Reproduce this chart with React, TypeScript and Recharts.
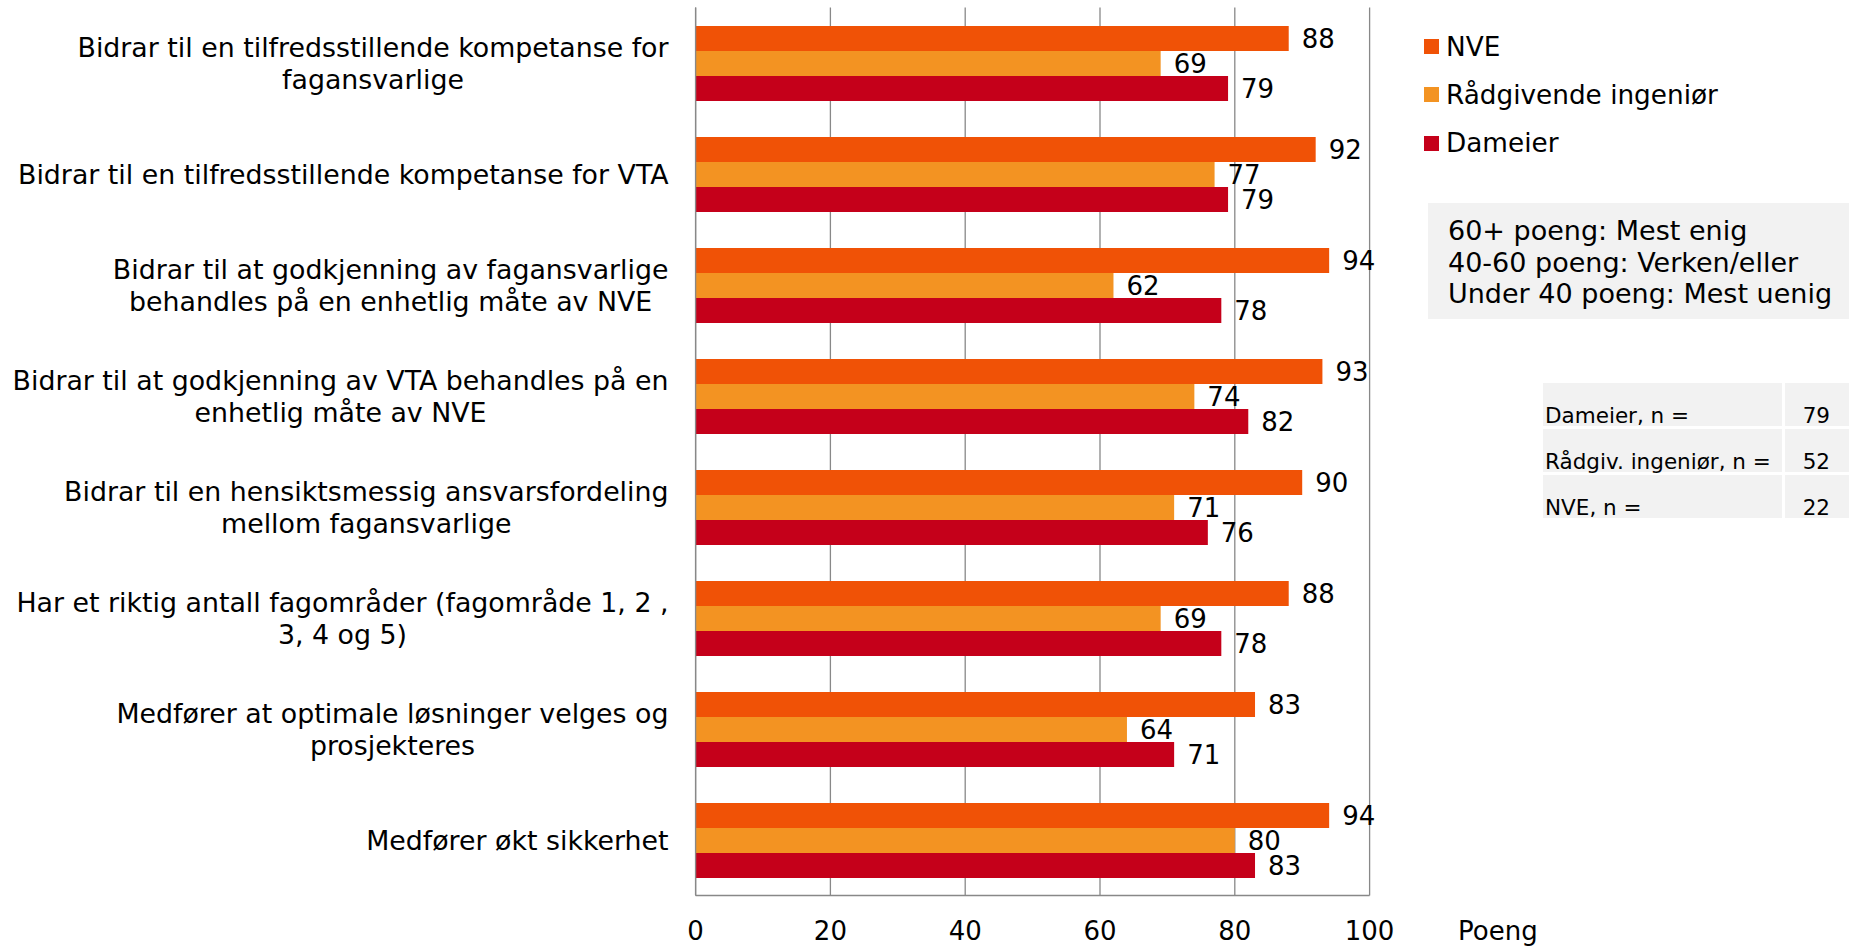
import React from "react";
import { BarChart, Bar, XAxis, YAxis, CartesianGrid, LabelList, Legend } from "recharts";

const categories = [
  "Bidrar til en tilfredsstillende kompetanse for\nfagansvarlige",
  "Bidrar til en tilfredsstillende kompetanse for VTA",
  "Bidrar til at godkjenning av fagansvarlige\nbehandles på en enhetlig måte av NVE",
  "Bidrar til at godkjenning av VTA behandles på en\nenhetlig måte av NVE",
  "Bidrar til en hensiktsmessig ansvarsfordeling\nmellom fagansvarlige",
  "Har et riktig antall fagområder (fagområde 1, 2 ,\n3, 4 og 5)",
  "Medfører at optimale løsninger velges og\nprosjekteres",
  "Medfører økt sikkerhet",
];
const nveValues = [88, 92, 94, 93, 90, 88, 83, 94];
const raadgivendeValues = [69, 77, 62, 74, 71, 69, 64, 80];
const dameierValues = [79, 79, 78, 82, 76, 78, 71, 83];
const xTicks = [0, 20, 40, 60, 80, 100];
const seriesNames = ["NVE", "Rådgivende ingeniør", "Dameier"];
const seriesColors = ["#F05206", "#F39322", "#C5001A"];
const axisTitle = "Poeng";
const noteLines = ["60+ poeng: Mest enig", "40-60 poeng: Verken/eller", "Under 40 poeng: Mest uenig"];
const sampleLabels = ["Dameier, n =", "Rådgiv. ingeniør, n =", "NVE, n ="];
const sampleSizes = [79, 52, 22];

const data = categories.map((name, i) => ({
  name,
  nve: nveValues[i],
  raad: raadgivendeValues[i],
  dam: dameierValues[i],
}));

const FONT = "'DejaVu Sans', Verdana, sans-serif";
const FS = 26;
const CAT_FS = 26.8;
const LINE_H = 32;
const LABEL_RIGHT = 668.5;
const TICK_Y = 931;
const GRID = "#888888";

let ctx: CanvasRenderingContext2D | null = null;
function measure(text: string): number {
  if (!ctx) ctx = document.createElement("canvas").getContext("2d");
  if (!ctx) return text.length * CAT_FS * 0.55;
  ctx.font = `${CAT_FS}px 'DejaVu Sans'`;
  return ctx.measureText(text).width;
}

const YTick = (props: any) => {
  const { y, payload } = props;
  const lines = String(payload.value).split("\n");
  const maxW = Math.max(...lines.map((l) => measure(l)));
  const cx = LABEL_RIGHT - maxW / 2;
  const y0 = y - ((lines.length - 1) * LINE_H) / 2;
  return (
    <g>
      {lines.map((l, i) => (
        <text
          key={i}
          x={cx}
          y={y0 + i * LINE_H}
          textAnchor="middle"
          dominantBaseline="central"
          fontFamily={FONT}
          fontSize={CAT_FS}
          fill="#000"
        >
          {l}
        </text>
      ))}
    </g>
  );
};

const XTick = (props: any) => {
  const { x, payload } = props;
  return (
    <text x={x} y={TICK_Y} textAnchor="middle" dominantBaseline="central" fontFamily={FONT} fontSize={FS} fill="#000">
      {payload.value}
    </text>
  );
};

const renderLegend = () => (
  <div style={{ fontFamily: FONT, fontSize: 26.3, color: "#000" }}>
    {seriesNames.map((n, i) => (
      <div key={n} style={{ display: "flex", alignItems: "center", height: 48.3, whiteSpace: "nowrap" }}>
        <span style={{ display: "inline-block", width: 15, height: 15, background: seriesColors[i], marginRight: 7 }} />
        <span>{n}</span>
      </div>
    ))}
  </div>
);

export default function App() {
  return (
    <div style={{ position: "absolute", left: 0, top: 0, width: 1849, height: 946, background: "#fff", fontFamily: FONT }}>
      <BarChart
        width={1849}
        height={946}
        data={data}
        layout="vertical"
        margin={{ top: 7.5, right: 479.4, bottom: 0.5, left: 0 }}
        barCategoryGap={18.5}
        barGap={0}
      >
        <CartesianGrid horizontal={false} stroke={GRID} strokeWidth={1.3} />
        <XAxis
          type="number"
          domain={[0, 100]}
          ticks={xTicks}
          interval={0}
          height={50}
          axisLine={{ stroke: GRID, strokeWidth: 1.3 }}
          tickLine={false}
          tick={<XTick />}
          label={{
            content: () => (
              <text x={1458} y={TICK_Y} dominantBaseline="central" fontFamily={FONT} fontSize={FS} fill="#000">
                {axisTitle}
              </text>
            ),
          }}
        />
        <YAxis
          type="category"
          dataKey="name"
          width={695.6}
          axisLine={{ stroke: GRID, strokeWidth: 1.3 }}
          tickLine={false}
          tick={<YTick />}
          interval={0}
        />
        <Legend
          layout="vertical"
          align="center"
          verticalAlign="middle"
          content={renderLegend}
          wrapperStyle={{ left: 1424, top: 22.5, width: 420 }}
        />
        <Bar dataKey="nve" name={seriesNames[0]} fill={seriesColors[0]} isAnimationActive={false}>
          <LabelList dataKey="nve" position="right" offset={13} fill="#000" fontSize={FS} fontFamily={FONT} />
        </Bar>
        <Bar dataKey="raad" name={seriesNames[1]} fill={seriesColors[1]} isAnimationActive={false}>
          <LabelList dataKey="raad" position="right" offset={13} fill="#000" fontSize={FS} fontFamily={FONT} />
        </Bar>
        <Bar dataKey="dam" name={seriesNames[2]} fill={seriesColors[2]} isAnimationActive={false}>
          <LabelList dataKey="dam" position="right" offset={13} fill="#000" fontSize={FS} fontFamily={FONT} />
        </Bar>
      </BarChart>

      <div
        style={{
          position: "absolute",
          left: 1428,
          top: 203,
          width: 421,
          height: 116,
          background: "#F2F2F2",
          boxSizing: "border-box",
          paddingLeft: 20,
          paddingTop: 12,
          fontSize: 27,
          lineHeight: "31.5px",
          color: "#000",
          whiteSpace: "nowrap",
        }}
      >
        {noteLines.map((l) => (
          <div key={l}>{l}</div>
        ))}
      </div>

      {sampleLabels.map((l, i) => (
        <React.Fragment key={l}>
          <div
            style={{
              position: "absolute",
              left: 1543,
              top: 383 + i * 46,
              width: 239,
              height: 43,
              background: "#F2F2F2",
            }}
          >
            <div style={{ position: "absolute", left: 2, top: 21, fontSize: 21.5, lineHeight: "24px", whiteSpace: "nowrap", color: "#000" }}>
              {l}
            </div>
          </div>
          <div
            style={{
              position: "absolute",
              left: 1785,
              top: 383 + i * 46,
              width: 64,
              height: 43,
              background: "#F2F2F2",
            }}
          >
            <div style={{ position: "absolute", right: 19, top: 21, fontSize: 21.5, lineHeight: "24px", whiteSpace: "nowrap", color: "#000" }}>
              {sampleSizes[i]}
            </div>
          </div>
        </React.Fragment>
      ))}
    </div>
  );
}
